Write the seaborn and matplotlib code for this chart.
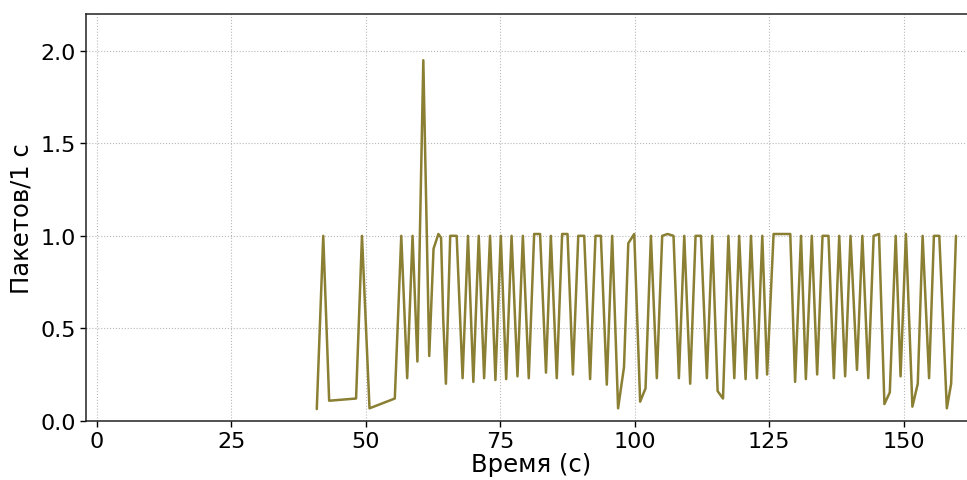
import numpy as np
import pandas as pd
import matplotlib
matplotlib.use("Agg")
import matplotlib.pyplot as plt
import seaborn as sns

# Packet rate over time (packets per 1 s interval)
time_s = [
    40.9, 42.1, 43.2, 48.2, 49.3, 50.7, 55.4, 56.6, 57.7, 58.7,
    59.6, 60.7, 61.8, 62.6, 63.5, 64.0, 64.4, 64.9, 65.7, 66.9,
    68.0, 69.0, 70.0, 71.0, 72.0, 73.1, 74.1, 75.1, 76.1, 77.1,
    78.2, 79.2, 80.3, 81.3, 82.4, 83.5, 84.4, 85.5, 86.5, 87.5,
    88.5, 89.5, 90.6, 91.7, 92.1, 92.7, 93.7, 94.8, 95.8, 96.9,
    98.0, 98.8, 99.9, 101.0, 102.0, 103.0, 104.1, 105.1, 106.1, 107.2,
    108.2, 109.2, 110.3, 111.3, 112.3, 113.4, 114.4, 115.4, 116.4, 117.4,
    118.5, 119.4, 120.6, 121.6, 122.7, 123.7, 124.6, 125.8, 126.8, 127.9,
    128.9, 129.8, 130.9, 131.8, 132.9, 133.9, 134.9, 136.0, 137.0, 138.0,
    139.1, 140.1, 141.3, 142.3, 143.4, 144.4, 145.4, 146.4, 147.4, 148.5,
    149.4, 150.4, 151.6, 152.6, 153.5, 154.7, 155.6, 156.6, 158.0, 158.8,
    159.7,
]
packets = [
    0.063, 1.00, 0.108, 0.12, 1.00, 0.067, 0.12, 1.00, 0.23, 1.00,
    0.32, 1.95, 0.35, 0.93, 1.01, 0.99, 0.55, 0.20, 1.00, 1.00,
    0.23, 1.00, 0.21, 1.00, 0.23, 1.00, 0.22, 1.00, 0.225, 1.00,
    0.24, 1.00, 0.23, 1.01, 1.01, 0.26, 1.00, 0.23, 1.01, 1.01,
    0.25, 1.00, 1.00, 0.225, 0.54, 1.00, 1.00, 0.195, 1.00, 0.067,
    0.29, 0.96, 1.01, 0.103, 0.175, 1.00, 0.23, 1.00, 1.01, 1.00,
    0.23, 1.00, 0.20, 1.00, 1.00, 0.23, 1.00, 0.16, 0.12, 1.00,
    0.23, 1.00, 0.225, 1.00, 0.23, 1.00, 0.25, 1.01, 1.01, 1.01,
    1.01, 0.21, 1.00, 0.225, 1.00, 0.25, 1.00, 1.00, 0.23, 1.00,
    0.24, 1.00, 0.275, 1.00, 0.23, 1.00, 1.01, 0.09, 0.153, 1.00,
    0.24, 1.01, 0.076, 0.20, 1.00, 0.23, 1.00, 1.00, 0.067, 0.20,
    1.00,
]

x_ticks = [0, 25, 50, 75, 100, 125, 150]
y_ticks = [0.0, 0.5, 1.0, 1.5, 2.0]

df = pd.DataFrame({"t": time_s, "rate": packets})

sns.set_style("ticks")
plt.rcParams["font.family"] = ["DejaVu Sans"]
plt.rcParams["text.color"] = "black"
plt.rcParams["axes.labelcolor"] = "black"
plt.rcParams["xtick.color"] = "black"
plt.rcParams["ytick.color"] = "black"

fig = plt.figure(figsize=(9.67, 4.81), dpi=100)
ax = fig.add_axes([0.0889, 0.1233, 0.9214, 0.8455])

sns.lineplot(data=df, x="t", y="rate", ax=ax, color="#8a7f32",
             linewidth=1.8, estimator=None, sort=False)

ax.set_xlim(-2.0, 163.6)
ax.set_ylim(0, 2.2)
ax.set_xticks(x_ticks)
ax.set_yticks(y_ticks)
ax.set_yticklabels([f"{v:.1f}" for v in y_ticks])
ax.tick_params(axis="both", labelsize=16, length=4, width=1)
ax.grid(True, linestyle=":", linewidth=0.8, color="#b8b8b8")
ax.set_xlabel("Время (с)", fontsize=17.5, labelpad=1)
ax.set_ylabel("Пакетов/1 с", fontsize=17.5, labelpad=5)
for side in ("left", "bottom", "top", "right"):
    ax.spines[side].set_color("#222222")
    ax.spines[side].set_linewidth(1.1)

fig.savefig("out.png", dpi=100)
